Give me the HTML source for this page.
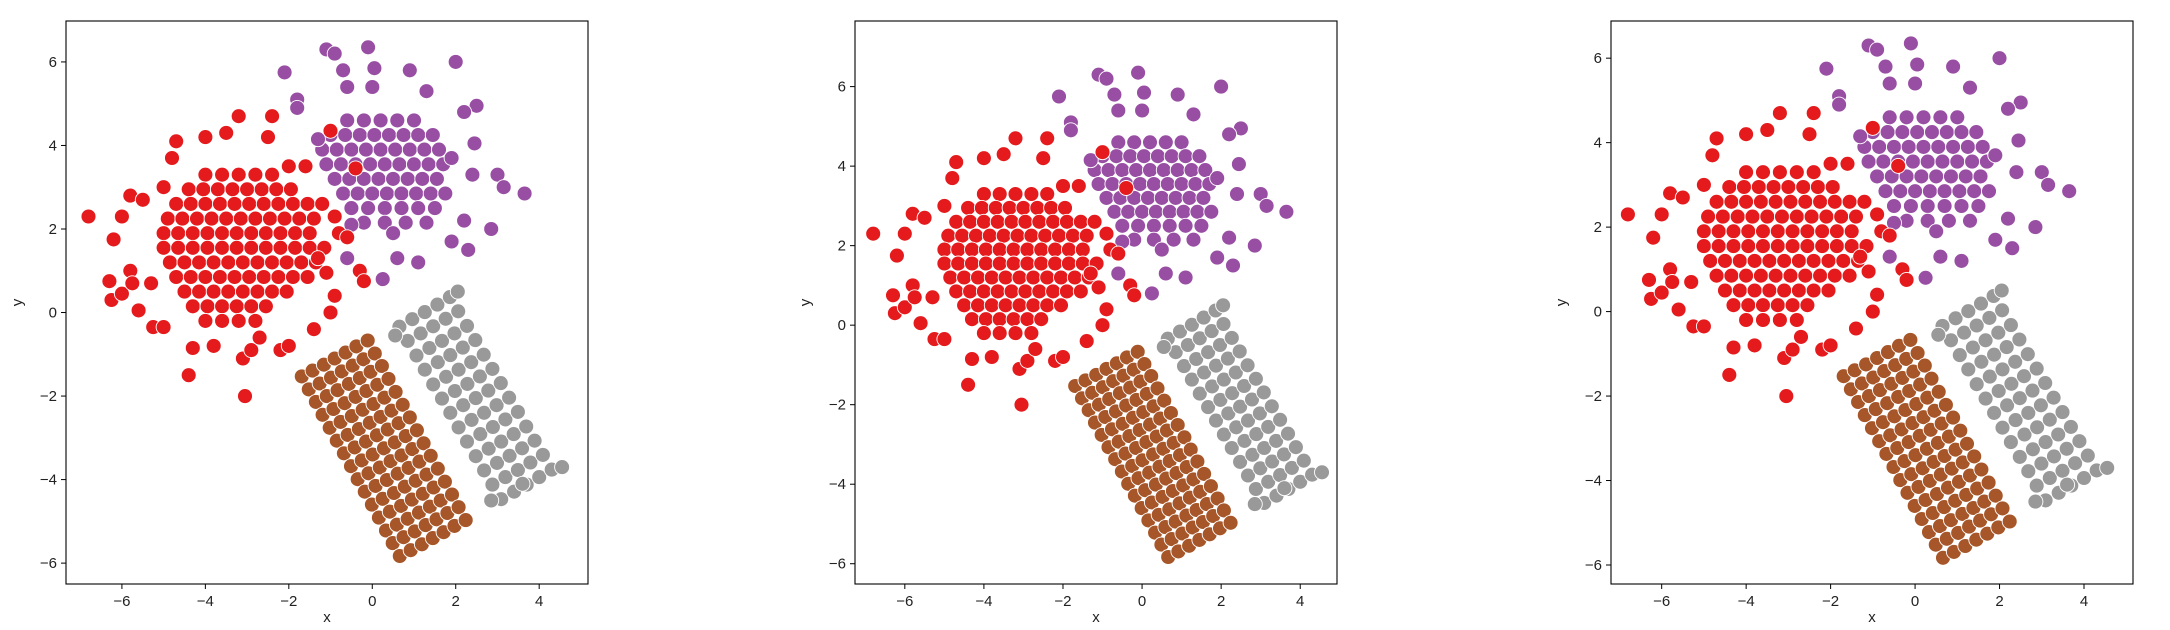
<!DOCTYPE html>
<html><head><meta charset="utf-8"><style>
html,body{margin:0;padding:0;background:#fff;}
svg{display:block;font-family:"Liberation Sans","DejaVu Sans",sans-serif;}
</style></head><body>
<svg id="fig" width="2170" height="630" viewBox="0 0 2170 630" xmlns="http://www.w3.org/2000/svg"></svg>
<script>
// ---- data (shared cluster samples) ----
const xTicks = [-6,-4,-2,0,2,4];
const yTicks = [-6,-4,-2,0,2,4,6];
const tickLabels = ["−6","−4","−2","0","2","4","6"];
const clusterNames = ["purple","gray","brown","red"];
const clusterColors = ["#984ea3","#999999","#a65628","#e41a1c"];
const purplePts = "-0.6,4.6 -0.2,4.6 0.2,4.6 0.6,4.6 1.0,4.6 -1.0,4.25 -0.65,4.25 -0.3,4.25 0.05,4.25 0.4,4.25 0.75,4.25 1.1,4.25 1.45,4.25 -1.2,3.9 -0.85,3.9 -0.5,3.9 -0.15,3.9 0.2,3.9 0.55,3.9 0.9,3.9 1.25,3.9 1.6,3.9 -1.1,3.55 -0.75,3.55 -0.4,3.55 -0.05,3.55 0.3,3.55 0.65,3.55 1.0,3.55 1.35,3.55 1.7,3.55 -0.9,3.2 -0.55,3.2 -0.2,3.2 0.15,3.2 0.5,3.2 0.85,3.2 1.2,3.2 1.55,3.2 -0.7,2.85 -0.35,2.85 0.0,2.85 0.35,2.85 0.7,2.85 1.05,2.85 1.4,2.85 1.75,2.85 -0.5,2.5 -0.1,2.5 0.3,2.5 0.7,2.5 1.1,2.5 1.5,2.5 -0.2,2.15 0.3,2.15 0.8,2.15 1.3,2.15 -2.1,5.75 -1.1,6.3 -0.9,6.2 -0.1,6.35 0.05,5.85 -0.7,5.8 -0.6,5.4 0.0,5.4 0.9,5.8 2.0,6.0 1.3,5.3 2.5,4.95 2.2,4.8 2.45,4.05 2.4,3.3 3.0,3.3 3.15,3.0 3.65,2.85 2.85,2.0 2.3,1.5 2.2,2.2 1.9,1.7 1.1,1.2 0.6,1.3 0.25,0.8 -0.6,1.3 -1.3,4.15 -1.8,5.1 -1.8,4.9 1.9,3.7 0.5,1.9 -0.5,2.1";
const grayPts = "0.65,-0.34 0.85,-0.68 1.06,-1.03 1.26,-1.37 1.46,-1.72 1.67,-2.06 1.87,-2.40 2.07,-2.75 2.27,-3.09 2.48,-3.44 2.68,-3.78 2.88,-4.12 3.09,-4.47 0.96,-0.16 1.16,-0.50 1.37,-0.85 1.57,-1.19 1.77,-1.54 1.98,-1.88 2.18,-2.22 2.38,-2.57 2.59,-2.91 2.79,-3.26 2.99,-3.60 3.19,-3.94 3.40,-4.29 1.26,0.01 1.46,-0.33 1.67,-0.68 1.87,-1.02 2.07,-1.37 2.28,-1.71 2.48,-2.05 2.68,-2.40 2.89,-2.74 3.09,-3.09 3.29,-3.43 3.49,-3.77 3.70,-4.12 1.56,0.19 1.76,-0.15 1.97,-0.50 2.17,-0.84 2.37,-1.19 2.58,-1.53 2.78,-1.87 2.98,-2.22 3.19,-2.56 3.39,-2.91 3.59,-3.25 3.79,-3.59 4.00,-3.94 1.86,0.37 2.06,0.03 2.27,-0.32 2.47,-0.66 2.67,-1.01 2.88,-1.35 3.08,-1.69 3.28,-2.04 3.49,-2.38 3.69,-2.73 3.89,-3.07 4.09,-3.41 4.30,-3.76 2.05,0.5 4.55,-3.7 2.85,-4.5 0.55,-0.55 3.6,-4.1";
const brownPts = "-1.69,-1.53 -1.52,-1.84 -1.35,-2.14 -1.19,-2.45 -1.02,-2.76 -0.85,-3.07 -0.68,-3.37 -0.51,-3.68 -0.35,-3.99 -0.18,-4.29 -0.01,-4.60 0.16,-4.91 0.33,-5.22 0.49,-5.52 0.66,-5.83 -1.43,-1.39 -1.26,-1.70 -1.09,-2.00 -0.93,-2.31 -0.76,-2.62 -0.59,-2.93 -0.42,-3.23 -0.25,-3.54 -0.09,-3.85 0.08,-4.15 0.25,-4.46 0.42,-4.77 0.59,-5.08 0.75,-5.38 0.92,-5.69 -1.16,-1.25 -0.99,-1.56 -0.83,-1.86 -0.66,-2.17 -0.49,-2.48 -0.32,-2.79 -0.15,-3.09 0.01,-3.40 0.18,-3.71 0.35,-4.01 0.52,-4.32 0.69,-4.63 0.85,-4.94 1.02,-5.24 1.19,-5.55 -0.90,-1.10 -0.73,-1.41 -0.56,-1.71 -0.40,-2.02 -0.23,-2.33 -0.06,-2.64 0.11,-2.94 0.28,-3.25 0.44,-3.56 0.61,-3.86 0.78,-4.17 0.95,-4.48 1.12,-4.79 1.28,-5.09 1.45,-5.40 -0.64,-0.96 -0.47,-1.27 -0.30,-1.57 -0.14,-1.88 0.03,-2.19 0.20,-2.50 0.37,-2.80 0.54,-3.11 0.70,-3.42 0.87,-3.72 1.04,-4.03 1.21,-4.34 1.38,-4.65 1.54,-4.95 1.71,-5.26 -0.38,-0.81 -0.21,-1.12 -0.04,-1.42 0.12,-1.73 0.29,-2.04 0.46,-2.35 0.63,-2.65 0.80,-2.96 0.96,-3.27 1.13,-3.57 1.30,-3.88 1.47,-4.19 1.64,-4.50 1.80,-4.80 1.97,-5.11 -0.11,-0.67 0.06,-0.98 0.23,-1.28 0.39,-1.59 0.56,-1.90 0.73,-2.21 0.90,-2.51 1.07,-2.82 1.23,-3.13 1.40,-3.43 1.57,-3.74 1.74,-4.05 1.91,-4.36 2.07,-4.66 2.24,-4.97";
const redPts = "-4.0,3.3 -3.6,3.3 -3.2,3.3 -2.8,3.3 -2.4,3.3 -4.4,2.95 -4.05,2.95 -3.7,2.95 -3.35,2.95 -3.0,2.95 -2.65,2.95 -2.3,2.95 -1.95,2.95 -4.7,2.6 -4.35,2.6 -4.0,2.6 -3.65,2.6 -3.3,2.6 -2.95,2.6 -2.6,2.6 -2.25,2.6 -1.9,2.6 -1.55,2.6 -4.9,2.25 -4.55,2.25 -4.2,2.25 -3.85,2.25 -3.5,2.25 -3.15,2.25 -2.8,2.25 -2.45,2.25 -2.1,2.25 -1.75,2.25 -1.4,2.25 -5.0,1.9 -4.65,1.9 -4.3,1.9 -3.95,1.9 -3.6,1.9 -3.25,1.9 -2.9,1.9 -2.55,1.9 -2.2,1.9 -1.85,1.9 -1.5,1.9 -5.0,1.55 -4.65,1.55 -4.3,1.55 -3.95,1.55 -3.6,1.55 -3.25,1.55 -2.9,1.55 -2.55,1.55 -2.2,1.55 -1.85,1.55 -1.5,1.55 -1.15,1.55 -4.85,1.2 -4.5,1.2 -4.15,1.2 -3.8,1.2 -3.45,1.2 -3.1,1.2 -2.75,1.2 -2.4,1.2 -2.05,1.2 -1.7,1.2 -1.35,1.2 -4.7,0.85 -4.35,0.85 -4.0,0.85 -3.65,0.85 -3.3,0.85 -2.95,0.85 -2.6,0.85 -2.25,0.85 -1.9,0.85 -1.55,0.85 -4.5,0.5 -4.15,0.5 -3.8,0.5 -3.45,0.5 -3.1,0.5 -2.75,0.5 -2.4,0.5 -2.05,0.5 -4.3,0.15 -3.95,0.15 -3.6,0.15 -3.25,0.15 -2.9,0.15 -2.55,0.15 -4.0,-0.2 -3.6,-0.2 -3.2,-0.2 -2.8,-0.2 -6.8,2.3 -6.2,1.75 -6.3,0.75 -6.0,2.3 -6.25,0.3 -6.0,0.45 -5.8,1.0 -5.75,0.7 -5.8,2.8 -5.5,2.7 -5.6,0.05 -5.3,0.7 -5.25,-0.35 -5.0,3.0 -5.0,-0.35 -4.8,3.7 -4.7,4.1 -4.4,-1.5 -4.3,-0.85 -4.0,4.2 -3.8,-0.8 -3.5,4.3 -3.1,-1.1 -3.05,-2.0 -3.2,4.7 -2.9,-0.9 -2.7,-0.6 -2.5,4.2 -2.4,4.7 -2.2,-0.9 -2.0,-0.8 -2.0,3.5 -1.6,3.5 -1.4,-0.4 -1.1,0.95 -1.0,0.0 -1.0,4.35 -0.9,2.3 -0.8,1.9 -0.6,1.8 -0.4,3.45 -0.3,1.0 -0.2,0.75 -1.2,2.6 -1.3,1.3 -0.9,0.4";
// ---- layout ----
const panels = [
  {name:"left",   l:66,  r:588,  t:21, b:584, x0:-7.34, x1:5.17, y0:-6.5,  y1:6.98, ylab:22},
  {name:"middle", l:855, r:1337, t:21, b:584, x0:-7.26, x1:4.93, y0:-6.51, y1:7.65, ylab:810},
  {name:"right",  l:1611,r:2133, t:21, b:584, x0:-7.2,  x1:5.16, y0:-6.45, y1:6.88, ylab:1566}
];
const NS="http://www.w3.org/2000/svg";
const svg=document.getElementById('fig');
function mk(tag,attrs,parent){const e=document.createElementNS(NS,tag);for(const k in attrs)e.setAttribute(k,attrs[k]);(parent||svg).appendChild(e);return e;}
function parse(s){return s.trim().split(/\s+/).map(p=>p.split(',').map(Number));}
const series=[parse(purplePts),parse(grayPts),parse(brownPts),parse(redPts)];
panels.forEach(p=>{
  const sx=v=>p.l+(v-p.x0)/(p.x1-p.x0)*(p.r-p.l);
  const sy=v=>p.b-(v-p.y0)/(p.y1-p.y0)*(p.b-p.t);
  const g=mk('g',{});
  
  
  const cid='clip-'+p.name;
  const cp=mk('clipPath',{id:cid},g);mk('rect',{x:p.l,y:p.t,width:p.r-p.l,height:p.b-p.t},cp);
  const pts=mk('g',{'clip-path':'url(#'+cid+')'},g);
  series.forEach((arr,si)=>{
    const sg=mk('g',{},pts);
    
    
    arr.forEach(([x,y])=>{
      const c=mk('circle',{cx:sx(x).toFixed(1),cy:sy(y).toFixed(1),r:7.5,fill:clusterColors[si],stroke:'#fff','stroke-width':0.9},sg);
      
      
    });
  });
  const frame=mk('rect',{x:p.l,y:p.t,width:p.r-p.l,height:p.b-p.t,fill:'none',stroke:'#000','stroke-width':1.1},g);
  
  
  xTicks.forEach(v=>{
    const X=sx(v);
    mk('line',{x1:X,x2:X,y1:p.b,y2:p.b+5,stroke:'#000','stroke-width':1},g);
    const t=mk('text',{x:X,y:p.b+22,'font-size':15,'text-anchor':'middle',fill:'#222'},g);
    t.textContent=tickLabels[yTicks.indexOf(v)];
    
    
  });
  yTicks.forEach((v,i)=>{
    const Y=sy(v);
    mk('line',{x1:p.l-5,x2:p.l,y1:Y,y2:Y,stroke:'#000','stroke-width':1},g);
    const t=mk('text',{x:p.l-9,y:Y+5,'font-size':15,'text-anchor':'end',fill:'#222'},g);
    t.textContent=tickLabels[i];
    
    
  });
  const xl=mk('text',{x:(p.l+p.r)/2,y:p.b+38,'font-size':15,'text-anchor':'middle',fill:'#222'},g);
  xl.textContent='x';
  
  
  const yl=mk('text',{x:p.ylab,y:(p.t+p.b)/2,'font-size':15,'text-anchor':'middle',fill:'#222',transform:'rotate(-90 '+p.ylab+' '+((p.t+p.b)/2)+')'},g);
  yl.textContent='y';
  
  
});
</script>
</body></html>
